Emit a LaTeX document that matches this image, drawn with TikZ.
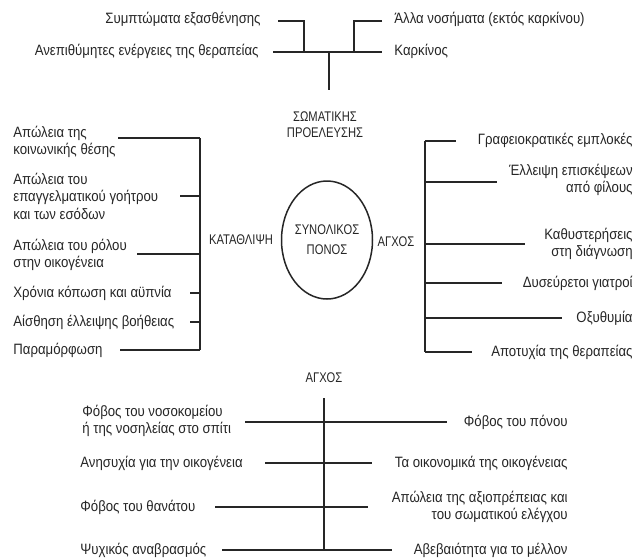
\documentclass[tikz,border=0pt]{standalone}
\usepackage{fontspec}
\setmainfont{Liberation Sans}[FakeStretch=0.88]
\newfontfamily\capsfont{Liberation Sans}[FakeStretch=0.8]
\usetikzlibrary{shapes.geometric}
\tikzstyle{branch}=[-, line width=0.75pt, draw=black!85]
\tikzstyle{lt}=[anchor=west, inner sep=0pt, align=left, text=black!85, font=\fontsize{7.5}{8.75}\selectfont]
\tikzstyle{rt}=[anchor=east, inner sep=0pt, align=right, text=black!85, font=\fontsize{7.5}{8.75}\selectfont]
\tikzstyle{cat}=[inner sep=0pt, align=center, text=black!85, font=\capsfont\fontsize{7}{8}\selectfont]
\tikzstyle{pain}=[ellipse, draw=black!85, line width=0.75pt, minimum width=42.5pt, minimum height=59pt, inner sep=0pt, align=center, text=black!85, font=\capsfont\fontsize{7}{10}\selectfont]

\begin{document}
\begin{tikzpicture}[x=0.5pt, y=-0.5pt]
				\useasboundingbox (0,0) rectangle (637,559);
				
				%The physical causes
				\draw (261,19) node[rt] (sympt) {Συμπτώματα εξασθένησης};
				\draw (394,19) node[lt] (other) {Άλλα νοσήματα (εκτός καρκίνου)};
				\draw (259,51) node[rt] (side) {Ανεπιθύμητες ενέργειες της θεραπείας};
				\draw (394,51) node[lt] (cancer) {Καρκίνος};
				\draw (325,125) node[cat] (somatic) {ΣΩΜΑΤΙΚΗΣ\\ΠΡΟΕΛΕΥΣΗΣ};
				
				\coordinate (t1) at (278,21);
				\coordinate (t2) at (382,21);
				\coordinate (t3) at (273,52);
				\coordinate (t4) at (382,52);
				\coordinate (a1) at (304,52);
				\coordinate (a2) at (354,52);
				\coordinate (tj) at (329,52);
				\coordinate (tb) at (329,90);
				
				\draw[branch] (t1) -| (a1);
				\draw[branch] (t2) -| (a2);
				\draw[branch] (t3) -- (t4);
				\draw[branch] (tj) -- (tb);
				
				%The centre
				\draw (327,240) node[pain] (total) {ΣΥΝΟΛΙΚΟΣ\\ΠΟΝΟΣ};
				\draw (241,240) node[cat] (depr) {ΚΑΤΑΘΛΙΨΗ};
				\draw (396,242) node[cat] (anx) {ΑΓΧΟΣ};
				
				%The depression side
				\draw (13,142) node[lt] (dep1) {Απώλεια της\\κοινωνικής θέσης};
				\draw (13,196) node[lt] (dep2) {Απώλεια του\\επαγγελματικού γοήτρου\\και των εσόδων};
				\draw (13,255) node[lt] (dep3) {Απώλεια του ρόλου\\στην οικογένεια};
				\draw (13,293) node[lt] (dep4) {Χρόνια κόπωση και αϋπνία};
				\draw (13,322) node[lt] (dep5) {Αίσθηση έλλειψης βοήθειας};
				\draw (13,350) node[lt] (dep6) {Παραμόρφωση};
				
				\coordinate (ls) at (200,0);
				\coordinate (d1) at (118,138);
				\coordinate (d2) at (180,196);
				\coordinate (d3) at (137,254);
				\coordinate (d4) at (190,293);
				\coordinate (d5) at (190,322);
				\coordinate (d6) at (120,350);
				
				\draw[branch] (d1 -| ls) -- (d6 -| ls);
				\draw[branch] (d1) -- (d1 -| ls);
				\draw[branch] (d2) -- (d2 -| ls);
				\draw[branch] (d3) -- (d3 -| ls);
				\draw[branch] (d4) -- (d4 -| ls);
				\draw[branch] (d5) -- (d5 -| ls);
				\draw[branch] (d6) -- (d6 -| ls);
				
				%The anxiety side
				\draw (633,140) node[rt] (anx1) {Γραφειοκρατικές εμπλοκές};
				\draw (633,180) node[rt] (anx2) {Έλλειψη επισκέψεων\\από φίλους};
				\draw (633,244) node[rt] (anx3) {Καθυστερήσεις\\στη διάγνωση};
				\draw (633,283) node[rt] (anx4) {Δυσεύρετοι γιατροί};
				\draw (633,318) node[rt] (anx5) {Οξυθυμία};
				\draw (633,352) node[rt] (anx6) {Αποτυχία της θεραπείας};
				
				\coordinate (rs) at (425,0);
				\coordinate (r1) at (456,141);
				\coordinate (r2) at (497,182);
				\coordinate (r3) at (525,244);
				\coordinate (r4) at (502,283);
				\coordinate (r5) at (562,318);
				\coordinate (r6) at (472,352);
				
				\draw[branch] (r1 -| rs) -- (r6 -| rs);
				\draw[branch] (r1 -| rs) -- (r1);
				\draw[branch] (r2 -| rs) -- (r2);
				\draw[branch] (r3 -| rs) -- (r3);
				\draw[branch] (r4 -| rs) -- (r4);
				\draw[branch] (r5 -| rs) -- (r5);
				\draw[branch] (r6 -| rs) -- (r6);
				
				%The fears
				\draw (324,378) node[cat] (fear) {ΑΓΧΟΣ};
				\draw (82,421) node[lt] (f1) {Φόβος του νοσοκομείου\\ή της νοσηλείας στο σπίτι};
				\draw (568,422) node[rt] (g1) {Φόβος του πόνου};
				\draw (80,463) node[lt] (f2) {Ανησυχία για την οικογένεια};
				\draw (568,463) node[rt] (g2) {Τα οικονομικά της οικογένειας};
				\draw (80,507) node[lt] (f3) {Φόβος του θανάτου};
				\draw (568,507) node[rt] (g3) {Απώλεια της αξιοπρέπειας και\\του σωματικού ελέγχου};
				\draw (80,550) node[lt] (f4) {Ψυχικός αναβρασμός};
				\draw (568,550) node[rt] (g4) {Αβεβαιότητα για το μέλλον};
				
				\coordinate (bt) at (324,398);
				\coordinate (bb) at (324,550);
				\coordinate (b1a) at (245,422);
				\coordinate (b1b) at (447,422);
				\coordinate (b2a) at (265,463);
				\coordinate (b2b) at (372,463);
				\coordinate (b3a) at (215,507);
				\coordinate (b3b) at (368,507);
				\coordinate (b4a) at (222,550);
				\coordinate (b4b) at (392,550);
				
				\draw[branch] (bt) -- (bb);
				\draw[branch] (b1a) -- (b1b);
				\draw[branch] (b2a) -- (b2b);
				\draw[branch] (b3a) -- (b3b);
				\draw[branch] (b4a) -- (b4b);
			\end{tikzpicture}
\end{document}
